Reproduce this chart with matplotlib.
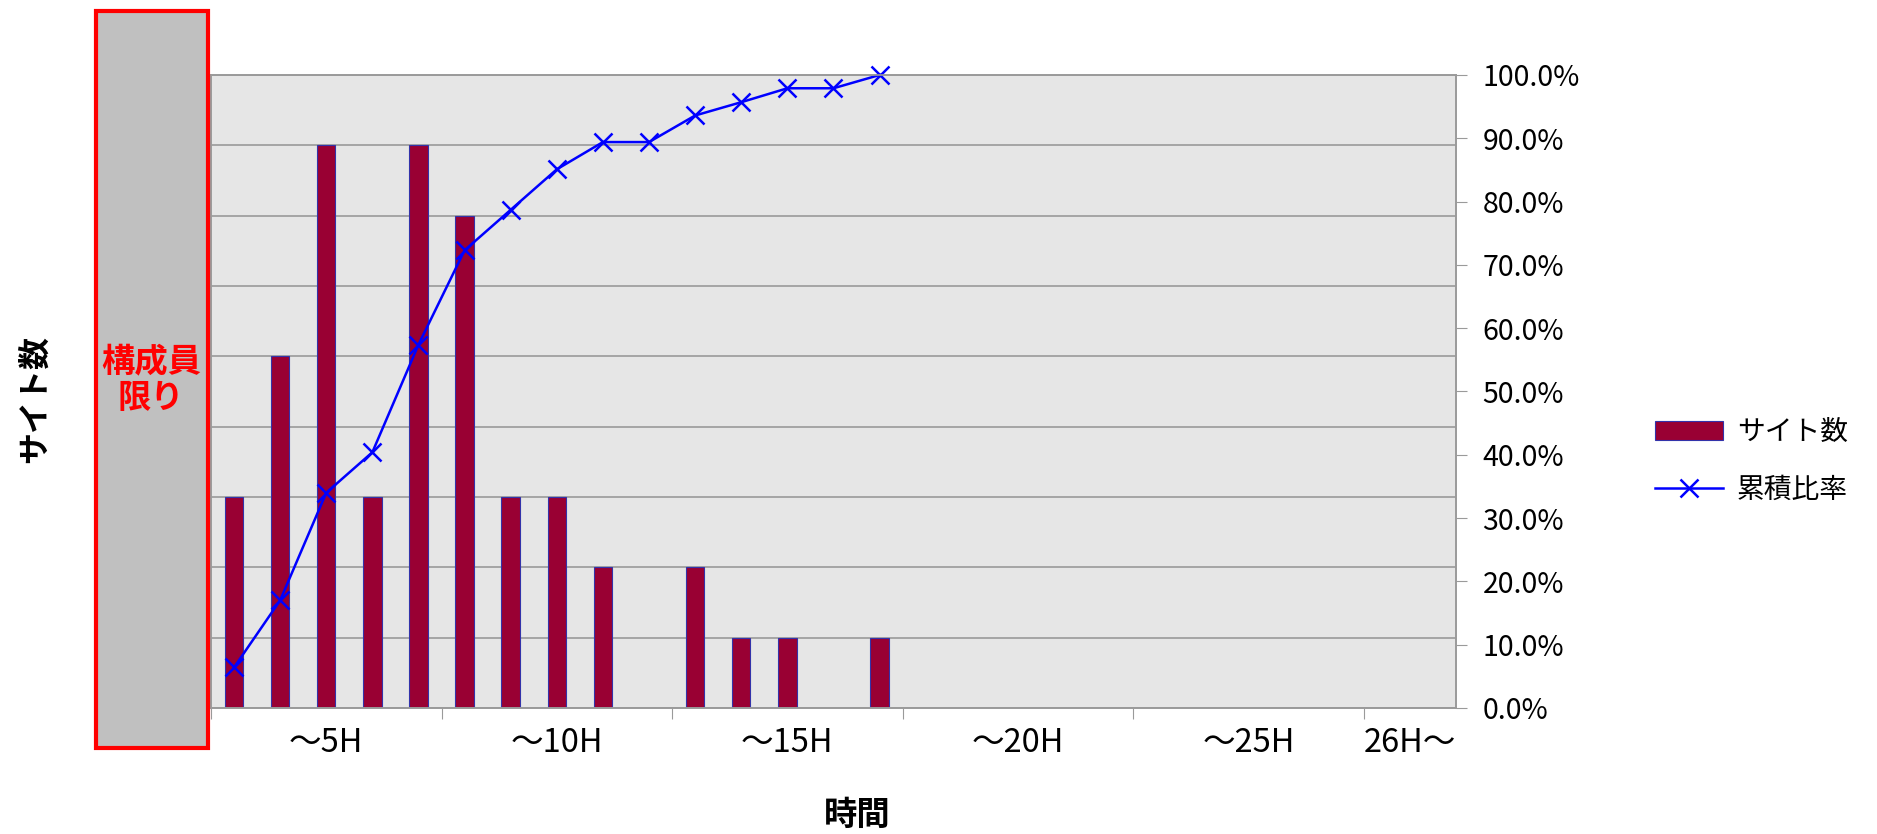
import numpy as np
import matplotlib.pyplot as plt
from matplotlib.patches import Rectangle
from matplotlib.ticker import FixedLocator, PercentFormatter

plt.rcParams['font.family'] = ['Noto Sans CJK JP', 'DejaVu Sans']

# 1時間刻みのカテゴリ (27区分)
hours = list(range(1, 28))
site_counts = [3, 5, 8, 3, 8, 7, 3, 3, 2, 0, 2, 1, 1, 0, 1,
               0, 0, 0, 0, 0, 0, 0, 0, 0, 0, 0, 0]
# 累積比率 (%) はデータのある15区分まで
cum_ratio = [6.4, 17.0, 34.0, 40.4, 57.4, 72.3, 78.7, 85.1, 89.4, 89.4,
             93.6, 95.7, 97.9, 97.9, 100.0]
group_labels = ['～5H', '～10H', '～15H', '～20H', '～25H', '26H～']

fig = plt.figure(figsize=(18.77, 8.34), dpi=100)
ax = fig.add_axes([0.1124, 0.1511, 0.6633, 0.7590])
ax2 = ax.twinx()

x = np.arange(len(hours))
grid_c = '#9a9a9a'

ax.set_facecolor('#E6E6E6')
ax.bar(x, site_counts, width=0.4, color='#990033', edgecolor='#3333AA',
       linewidth=0.8, label='サイト数')
ax.set_xlim(-0.5, len(hours) - 0.5)
ax.set_ylim(0, 9)
ax.set_yticks(range(0, 10))
ax.set_yticklabels([])
ax.yaxis.grid(True, color=grid_c, linewidth=1.2)
ax.set_axisbelow(True)
ax.tick_params(axis='y', direction='out', length=4, color=grid_c)

# 5時間ごとの区切り目盛とグループ名
edges = np.arange(-0.5, len(hours) - 1, 5)
centers = [min(e + 5, len(hours) - 0.5) / 2 + e / 2 for e in edges]
ax.xaxis.set_major_locator(FixedLocator(edges))
ax.xaxis.set_minor_locator(FixedLocator(centers))
ax.set_xticklabels([], minor=False)
ax.set_xticklabels(group_labels, minor=True)
ax.tick_params(axis='x', which='major', direction='out', length=8, color=grid_c)
ax.tick_params(axis='x', which='minor', length=0, pad=14, labelsize=23.5)

ln, = ax2.plot(x[:len(cum_ratio)], np.array(cum_ratio) / 100, color='#0000FF',
               linewidth=1.8, marker='x', markersize=13, markeredgewidth=1.8,
               label='累積比率', clip_on=False)
ax2.set_ylim(0, 1)
ax2.set_yticks(np.arange(0, 1.01, 0.1))
ax2.yaxis.set_major_formatter(PercentFormatter(1.0, decimals=1))
ax2.tick_params(axis='y', direction='out', length=8, color=grid_c, pad=11,
                labelsize=20.5)

for a in (ax, ax2):
    for s in a.spines.values():
        s.set_color(grid_c)
        s.set_linewidth(1.2)

handles = [ax.patches[0], ln]
fig.legend(handles, ['サイト数', '累積比率'], loc='center left',
           bbox_to_anchor=(0.8817, 0.447), frameon=False, fontsize=20,
           borderpad=0, borderaxespad=0, handlelength=2.45, handletextpad=0.5,
           labelspacing=1.0)

fig.text(0.0186, 0.5216, 'サイト数', rotation=90, ha='center', va='center',
         fontsize=23, fontweight='bold')
fig.text(0.4566, 0.0228, '時間', ha='center', va='center',
         fontsize=24, fontweight='bold')

# 左軸を覆う灰色の枠
box = Rectangle((0.0511, 0.1031), 0.0597, 0.8837, transform=fig.transFigure,
                facecolor='#C0C0C0', edgecolor='#FF0000', linewidth=3, zorder=5)
fig.add_artist(box)
fig.text(0.0804, 0.5444, '構成員\n限り', ha='center', va='center', color='#FF0000',
         fontsize=24, fontweight='bold', linespacing=1.15, zorder=6)

fig.savefig('out.png', dpi=100)
